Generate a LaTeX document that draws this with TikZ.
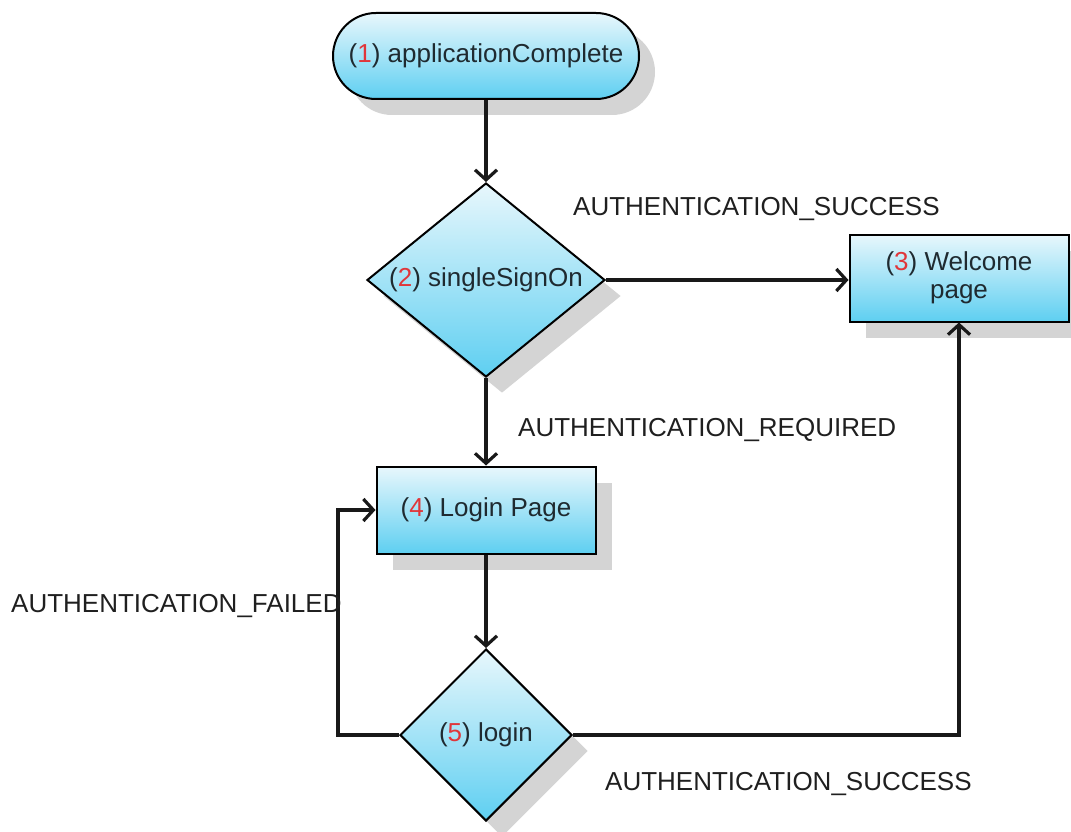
\documentclass[tikz,border=0pt]{standalone}
\usepackage{fontspec}
\setmainfont{Liberation Sans}
\usetikzlibrary{arrows.meta,shapes.geometric,shadows}
\definecolor{boxtop}{HTML}{E8F7FC}
\definecolor{boxbot}{HTML}{5ECFF1}
\definecolor{numred}{HTML}{E0363A}
\definecolor{inktext}{HTML}{1F2A30}
\definecolor{shade}{HTML}{D4D4D4}
\newcommand{\stepno}[1]{(\textcolor{numred}{#1})}
\begin{document}
\begin{tikzpicture}[x=1pt,y=-1pt,
  font=\fontsize{26}{28}\selectfont,
  flowshape/.style={draw=black, line width=2pt, top color=boxtop, bottom color=boxbot,
    text=inktext, inner sep=0pt,
    general shadow={fill=shade, shadow xshift=16pt, shadow yshift=-16pt}},
  pill/.style={flowshape, rectangle, rounded corners=43pt, minimum width=306pt, minimum height=86pt},
  pagebox/.style={flowshape, rectangle, minimum width=219pt, minimum height=87pt, align=center},
  decision/.style={flowshape, diamond, inner sep=0pt},
  inlabel/.style={text=inktext, inner sep=0pt},
  edgelabel/.style={text=black!88, inner sep=0pt, anchor=base west},
  conn/.style={line width=3.2pt, draw=black!90, -{Straight Barb[length=10pt,width=22pt]}}
]
\useasboundingbox (0,0) rectangle (1071,832);

% nodes
\node[pill] (n1) at (486,56) {\stepno{1} applicationComplete};
\node[decision, minimum width=238pt, minimum height=194pt] (d2) at (486,280) {};
\node[inlabel] (t2) at (d2) {\stepno{2} singleSignOn};
\node[pagebox] (n3) at (959,278) {\stepno{3} Welcome\\page};
\node[pagebox] (n4) at (486,510) {\stepno{4} Login Page};
\node[decision, minimum width=172pt, minimum height=172pt] (d5) at (486,735) {};
\node[inlabel] (t5) at (d5) {\stepno{5} login};

% connectors
\draw[conn] (n1.south) -- (d2.north);
\draw[conn] (d2.east) -- (d2.east -| n3.west);
\draw[conn] (d2.south) -- (n4.north);
\draw[conn] (n4.south) -- (d5.north);
\draw[conn] (d5.east) -| (n3.south);
\draw[conn] (d5.west) -- ++(-61,0) |- (n4.west);

% transition labels
\node[edgelabel] (l1) at (573,215) {AUTHENTICATION\_SUCCESS};
\node[edgelabel] (l2) at (518,436) {AUTHENTICATION\_REQUIRED};
\node[edgelabel] (l3) at (11,612) {AUTHENTICATION\_FAILED};
\node[edgelabel] (l4) at (605,790) {AUTHENTICATION\_SUCCESS};
\end{tikzpicture}
\end{document}
